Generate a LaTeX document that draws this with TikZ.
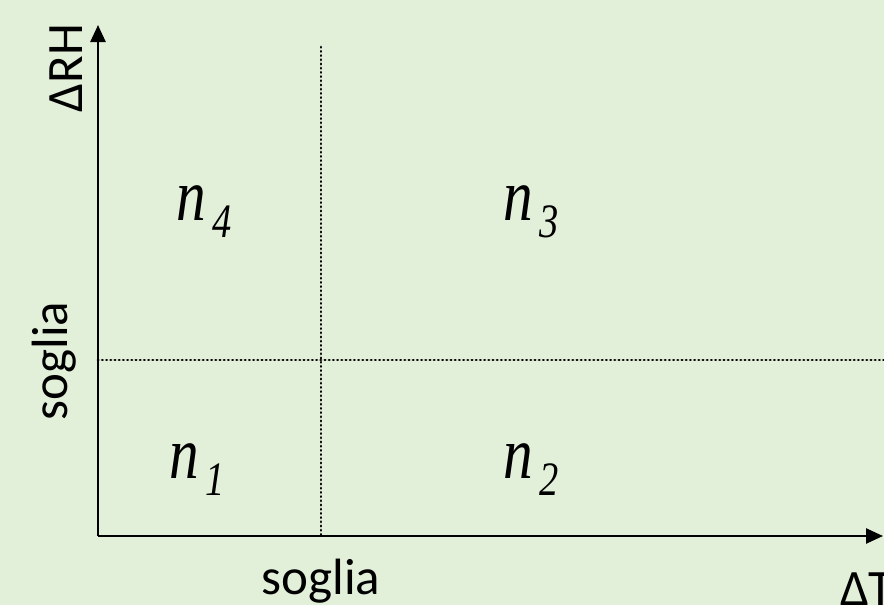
\documentclass[tikz,border=0pt]{standalone}
\usepackage{fontspec}
\setsansfont{Carlito}
\newfontfamily\lblfont[FakeStretch=0.8]{Liberation Serif}
\usetikzlibrary{arrows.meta}
\definecolor{bggreen}{HTML}{E2EFD9}
\newcommand{\nlabel}[1]{{\lblfont\itshape n\hspace{7pt}\raisebox{-17pt}{\fontsize{48}{48}\selectfont #1}}}

\begin{document}
\begin{tikzpicture}[x=1pt,y=-1pt]
    \tikzstyle{axis}=[line width=2.5pt,-{Triangle[length=17pt,width=15pt]}]
    \tikzstyle{limit}=[line width=2.8pt,line cap=round,dash pattern=on 0.4pt off 3.8pt]
    \tikzstyle{axislabel}=[inner sep=0pt,font=\sffamily\fontsize{51}{60}\selectfont]
    \tikzstyle{region}=[inner sep=0pt,anchor=base west,font=\fontsize{74}{80}\selectfont]
    % Background
    \fill[bggreen] (0,0) rectangle (884,605);
    \useasboundingbox (0,0) rectangle (884,605);
    % Points
    \coordinate (origin) at (98,536);
    \coordinate (ytip) at (98,25);
    \coordinate (xtip) at (883,536);
    \coordinate (tstart) at (321,47);
    \coordinate (tend) at (321,536);
    \coordinate (hstart) at (98,360);
    \coordinate (hend) at (884,360);
    % Thresholds
    \draw[limit] (tstart) -- (tend);
    \draw[limit] (hstart) -- (hend);
    % Axes
    \draw[axis] (origin) -- (ytip);
    \draw[axis] (origin) -- (xtip);
    % Axis labels
    \node[axislabel,rotate=90,anchor=base] (drh) at (82,68) {ΔRH};
    \node[axislabel,rotate=90,anchor=base] (sogliay) at (67,361) {soglia};
    \node[axislabel,anchor=base] (sogliax) at (321,594) {soglia};
    \node[axislabel,anchor=base west] (dt) at (840,605) {ΔT};
    % Regions
    \node[region] (nfour) at (176,220) {\nlabel{4}};
    \node[region] (nthree) at (503,220) {\nlabel{3}};
    \node[region] (none) at (169,478) {\nlabel{1}};
    \node[region] (ntwo) at (503,478) {\nlabel{2}};
\end{tikzpicture}
\end{document}
